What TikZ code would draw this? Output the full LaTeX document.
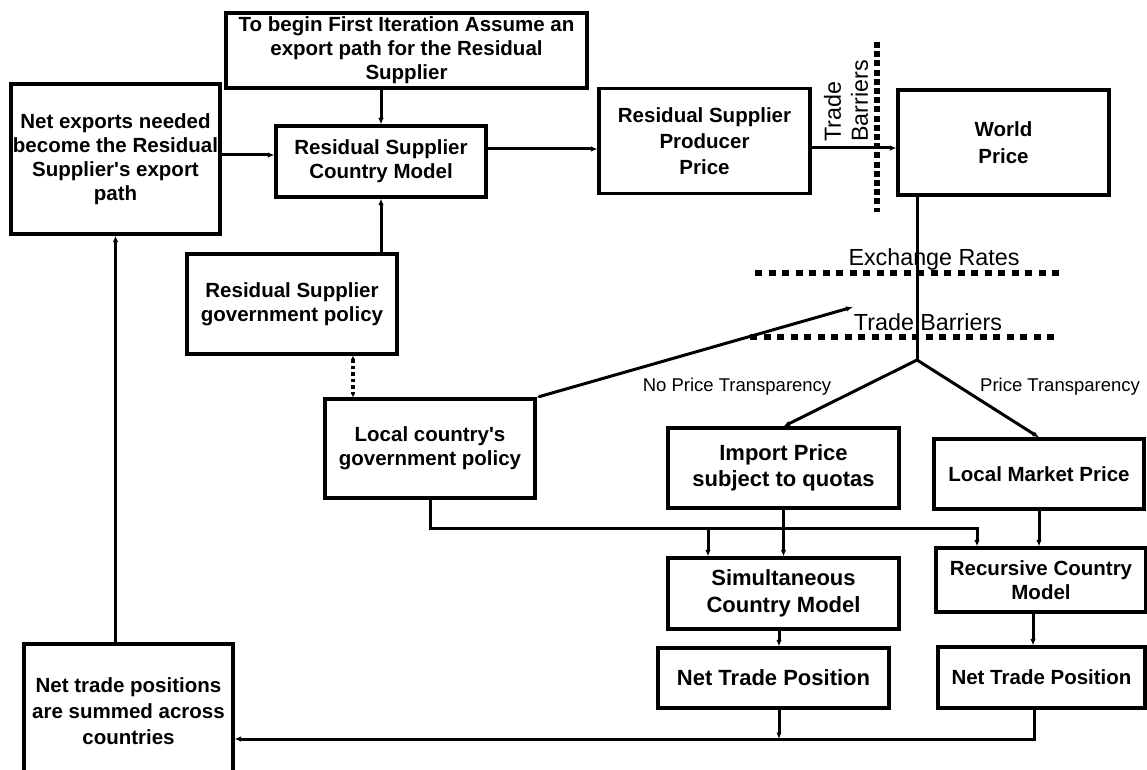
\documentclass[tikz,border=0pt]{standalone}
\usepackage{fontspec}
\setmainfont{Liberation Sans}[Ligatures=TeXOff]
\usetikzlibrary{arrows.meta,calc}
\tikzset{
  box/.style={draw, line width=3.2pt, inner sep=0pt, align=center,
    font=\bfseries\fontsize{20.5}{24}\selectfont},
  bigbox/.style={box, font=\bfseries\fontsize{22}{26.5}\selectfont},
  conn/.style={line width=3pt},
  arr/.style={conn, -{Latex[length=6.5pt,width=5.5pt]}},
  barrier/.style={line width=6.5pt, dash pattern=on 7pt off 6.5pt},
  vbarrier/.style={line width=6pt, dash pattern=on 6pt off 3.2pt},
  lbl/.style={inner sep=0pt, font=\fontsize{23.3}{27}\selectfont},
  small/.style={inner sep=0pt, font=\fontsize{18.5}{22}\selectfont}
}
\begin{document}
\begin{tikzpicture}[x=1pt,y=-1pt]
\useasboundingbox (0,0) rectangle (1147,770);
\fill[white] (0,0) rectangle (1147,770);
\clip (0,0) rectangle (1147,770);

% boxes
\node[box, minimum width=361pt, minimum height=75pt] (top) at (406.5,50.5)
  {To begin First Iteration Assume an\\export path for the Residual\\Supplier};
\node[box, minimum width=209pt, minimum height=150pt] (netexp) at (115.5,159)
  {Net exports needed\\become the Residual\\Supplier's export\\path};
\node[box, minimum width=210pt, minimum height=71pt] (rscm) at (381,161.5)
  {Residual Supplier\\Country Model};
\node[box, minimum width=211pt, minimum height=105pt, font=\bfseries\fontsize{20.5}{26}\selectfont] (rspp) at (704.5,141)
  {Residual Supplier\\Producer\\Price};
\node[box, minimum width=211pt, minimum height=105pt, font=\bfseries\fontsize{20.5}{27}\selectfont] (world) at (1003.5,142.5)
  {World\\Price};
\node[box, minimum width=210pt, minimum height=100pt] (rsgov) at (292,304)
  {Residual Supplier\\government policy};
\node[box, minimum width=210pt, minimum height=99pt] (localgov) at (430,448.5)
  {Local country's\\government policy};
\node[bigbox, minimum width=231pt, minimum height=80pt] (import) at (783.5,468)
  {Import Price\\subject to quotas};
\node[box, minimum width=210pt, minimum height=70pt] (lmp) at (1039,474)
  {Local Market Price};
\node[bigbox, minimum width=231pt, minimum height=71pt] (simul) at (783.5,593.5)
  {Simultaneous\\Country Model};
\node[box, minimum width=210pt, minimum height=64pt] (recur) at (1041,580)
  {Recursive Country\\Model};
\node[bigbox, minimum width=231pt, minimum height=60pt] (ntp1) at (773.5,678)
  {Net Trade Position};
\node[box, minimum width=207pt, minimum height=61pt] (ntp2) at (1041.5,677.5)
  {Net Trade Position};
\node[box, minimum width=209pt, minimum height=134pt, font=\bfseries\fontsize{20.5}{26}\selectfont] (nettrade) at (128.5,711)
  {Net trade positions\\are summed across\\countries};

% barriers and labels
\draw[vbarrier] (877,42) -- (877,212);
\node[lbl, rotate=90, anchor=west, align=left] (tbv) at (846,142) {Trade\\Barriers};
\draw[barrier] (755,273) -- (1061,273);
\draw[barrier] (750,337) -- (1057,337);
\node[lbl] (exr) at (934,259) {Exchange Rates};
\node[lbl] (tbh) at (928,322) {Trade Barriers};
\node[small] (npt) at (737,387) {No Price Transparency};
\node[small] (pt) at (1060,387) {Price Transparency};

% helper coordinates
\coordinate (a1) at (0,155);
\coordinate (a2) at (0,149);
\coordinate (a3) at (0,148);
\coordinate (J) at (917,360);
\coordinate (tb) at (853,307);
\coordinate (d) at (353,0);
\coordinate (h1) at (977,528);
\coordinate (h2) at (708,528);
\coordinate (b1) at (779,739);

% connectors
\draw[arr] (top.south -| rscm.north) -- (rscm.north);
\draw[arr] (netexp.east |- a1) -- (rscm.west |- a1);
\draw[arr] (rscm.east |- a2) -- (rspp.west |- a2);
\draw[arr] (rspp.east |- a3) -- (world.west |- a3);
\draw[arr] (rsgov.north -| rscm.south) -- (rscm.south);
\draw[line width=3.5pt, dash pattern=on 3.5pt off 3pt, {Latex[length=4pt,width=4pt]}-{Latex[length=4pt,width=4pt]}] (rsgov.south -| d) -- (localgov.north -| d);
\draw[conn, {Latex[length=4pt,width=4pt]}-{Latex[length=7pt,width=5.5pt]}] (localgov.north east) -- (tb);
\draw[conn] (world.south -| J) -- (J);
\draw[arr] (J) -- (import.north);
\draw[arr] (J) -- (lmp.north);
\draw[arr] (localgov.south) |- (h1) -- (h1 |- recur.north);
\draw[arr] (h2) -- (h2 |- simul.north);
\draw[arr] (import.south) -- (simul.north);
\draw[arr] (lmp.south) -- (lmp.south |- recur.north);
\draw[arr] (simul.south -| b1) -- (ntp1.north -| b1);
\draw[arr] ([xshift=-8pt]recur.south) -- ([xshift=-8pt]recur.south |- ntp2.north);
\draw[arr] (ntp1.south -| b1) -- (b1);
\draw[arr] ([xshift=-7pt]ntp2.south) |- (nettrade.east |- b1);
\draw[arr] (nettrade.north -| netexp.south) -- (netexp.south);
\end{tikzpicture}
\end{document}
